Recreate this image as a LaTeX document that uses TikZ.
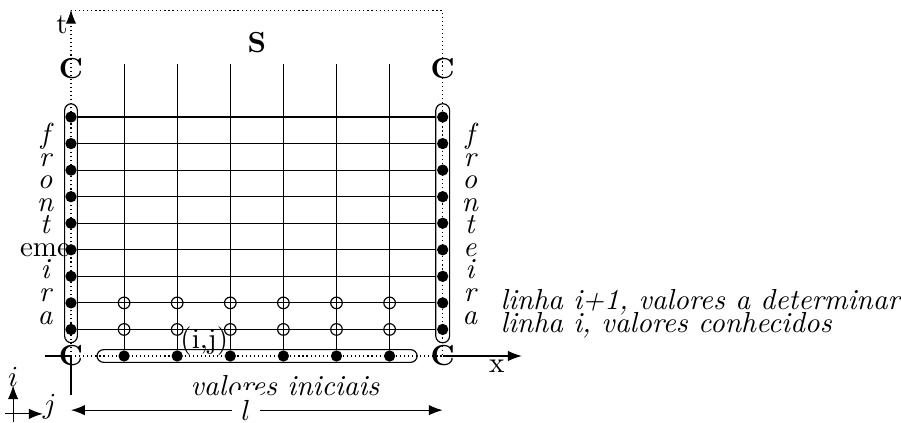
\documentclass[tikz,border=0pt]{standalone}
\usepackage{tikz}
\usetikzlibrary{arrows.meta}

\begin{document}
\begin{tikzpicture}[x=18.31pt,y=18.31pt,>=Latex,
    dot/.style={circle,fill,inner sep=0pt,minimum size=3.9pt},
    ring/.style={circle,draw,inner sep=0pt,minimum size=4pt},
    capsule/.style={rounded corners=2.3pt},
    letters/.style={anchor=north,inner sep=0pt,align=center,
      font=\itshape\fontsize{10}{7.76}\selectfont}]
  \useasboundingbox (-1.337,-1.243) rectangle (15.631,6.704);
  % pontos da fronteira e valores iniciais
  \foreach \k in {1,...,9} {
    \node[dot] (L\k) at (0,\k/2) {};
    \node[dot] (R\k) at (7,\k/2) {};
    \draw (L\k) -- (R\k);
  }
  \foreach \j in {1,...,6} {
    \node[dot] (B\j) at (\j,0) {};
    \coordinate (T\j) at (\j,5.5);
    \draw (B\j) -- (T\j);
    \node[ring] (K\j) at (\j,0.5) {};
    \node[ring] (N\j) at (\j,1) {};
  }
  % eixos
  \coordinate (O) at (0,0);
  \coordinate (tb) at (0,-0.73);
  \coordinate (tt) at (0,6.52);
  \coordinate (xl) at (-0.49,0);
  \coordinate (xc) at (7,0);
  \coordinate (xr) at (8.49,0);
  \coordinate (ST) at (0,6.5);
  \coordinate (SR) at (7,6.5);
  \draw (tb) -- (O);
  \draw[densely dotted,->] (O) -- (tt);
  \draw (xl) -- (O);
  \draw[densely dotted] (O) -- (xc);
  \draw[->] (xc) -- (xr);
  \draw[densely dotted] (ST) -- (SR) -- (xc);
  % caixas
  \draw[capsule] (-0.12,0.25) rectangle (0.12,4.75);
  \draw[capsule] (6.87,0.25) rectangle (7.13,4.75);
  \draw[capsule] (0.49,-0.12) rectangle (6.52,0.12);
  % textos
  \node (lt) at (-0.17,6.23) {t};
  \node[font=\bfseries] (lS) at (3.5,5.91) {S};
  \node[font=\bfseries] (C1) at (0,5.42) {C};
  \node[font=\bfseries] (C2) at (7,5.42) {C};
  \node[font=\bfseries] (C3) at (0,0) {C};
  \node[font=\bfseries] (C4) at (7,0) {C};
  \node (lx) at (8.02,-0.2) {x};
  \node (lij) at (2.51,0.27) {(i,j)};
  \node[font=\itshape] (lvi) at (4.03,-0.55) {valores iniciais};
  \node[letters] (FL) at (-0.49,4.389) {f\\r\\o\\n\\t\\{\upshape eme}\\i\\r\\a};
  \node[letters] (FR) at (7.51,4.389) {f\\r\\o\\n\\t\\e\\i\\r\\a};
  \node[anchor=base west,inner sep=0pt,font=\itshape] (l1) at (8.08,0.88) {linha i+1, valores a determinar};
  \node[anchor=base west,inner sep=0pt,font=\itshape] (l0) at (8.08,0.44) {linha i, valores conhecidos};
  % comprimento l
  \coordinate (dl) at (0,-1.02);
  \coordinate (dr) at (7,-1.02);
  \draw[<->] (dl) -- node[fill=white,pos=0.471] (ll) {$l$} (dr);
  % eixos i, j
  \coordinate (ib) at (-1.09,-1.243);
  \coordinate (it) at (-1.09,-0.55);
  \coordinate (jl) at (-1.24,-1.09);
  \coordinate (jr) at (-0.53,-1.09);
  \draw[->] (ib) -- (it);
  \draw[->] (jl) -- (jr);
  \node (li) at (-1.09,-0.40) {$i$};
  \node (lj) at (-0.40,-0.96) {$j$};
\end{tikzpicture}
\end{document}
